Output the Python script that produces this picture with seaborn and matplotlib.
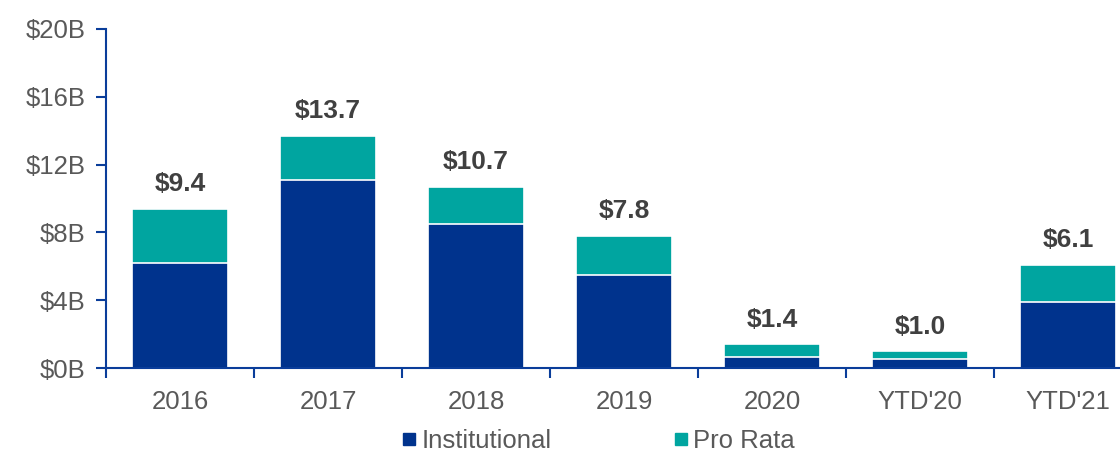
import matplotlib
matplotlib.use("Agg")
import matplotlib.pyplot as plt
from matplotlib.lines import Line2D
import seaborn as sns
import pandas as pd
import numpy as np

categories = ["2016", "2017", "2018", "2019", "2020", "YTD'20", "YTD'21"]
institutional = [6.2, 11.1, 8.5, 5.5, 0.65, 0.55, 3.9]
pro_rata = [3.2, 2.6, 2.2, 2.3, 0.75, 0.45, 2.2]
total_labels = ["$9.4", "$13.7", "$10.7", "$7.8", "$1.4", "$1.0", "$6.1"]
y_ticks = [0, 4, 8, 12, 16, 20]
y_tick_labels = ["$0B", "$4B", "$8B", "$12B", "$16B", "$20B"]

C_INST = "#00338D"
C_PRO = "#00A5A0"
C_AXIS = "#0A3D9A"
C_TEXT = "#595959"
C_LABEL = "#404040"

sns.set_style("white")
plt.rcParams["font.family"] = ["Liberation Sans", "DejaVu Sans"]

df = pd.DataFrame({"cat": categories, "inst": institutional, "pro": pro_rata})
df["total"] = df["inst"] + df["pro"]

fig = plt.figure(figsize=(11.2, 4.51), dpi=100)
ax = fig.add_axes([106 / 1120, (451 - 368) / 451, 1036 / 1120, 339 / 451])

sns.barplot(data=df, x="cat", y="total", color=C_PRO, width=0.65, ax=ax,
            edgecolor="white", linewidth=1.2, saturation=1)
sns.barplot(data=df, x="cat", y="inst", color=C_INST, width=0.65, ax=ax,
            edgecolor="white", linewidth=1.2, saturation=1)

for i, (t, lab) in enumerate(zip(df["total"], total_labels)):
    ax.annotate(lab, (i, t), xytext=(0, 9), textcoords="offset points",
                ha="center", va="bottom", fontsize=19, fontweight="bold",
                color=C_LABEL)

ax.set_xlim(-0.5, len(categories) - 0.5)
ax.set_ylim(0, 20)
ax.set_yticks(y_ticks)
ax.set_yticklabels(y_tick_labels)
ax.set_xlabel("")
ax.set_ylabel("")

ax.set_xticks(np.arange(-0.5, len(categories), 1.0), minor=True)
ax.tick_params(axis="x", which="major", bottom=True, length=0, pad=15.5,
               labelsize=18.5, labelcolor=C_TEXT)
ax.tick_params(axis="x", which="minor", bottom=True, length=7, width=1.5,
               color=C_AXIS, direction="out")
ax.tick_params(axis="y", which="major", left=True, length=7, width=1.5, color=C_AXIS,
               direction="out", labelsize=18.5, labelcolor=C_TEXT, pad=7.5)

for s in ["top", "right"]:
    ax.spines[s].set_visible(False)
for s in ["left", "bottom"]:
    ax.spines[s].set_color(C_AXIS)
    ax.spines[s].set_linewidth(1.5)

handles = [
    Line2D([0], [0], marker="s", linestyle="none", markersize=8.5,
           markerfacecolor=C_INST, markeredgecolor=C_INST, label="Institutional"),
    Line2D([0], [0], marker="s", linestyle="none", markersize=8.5,
           markerfacecolor=C_PRO, markeredgecolor=C_PRO, label="Pro Rata"),
]
leg = fig.legend(handles=handles, loc="center", bbox_to_anchor=(597 / 1120, 10 / 451),
                 ncol=2, frameon=False, fontsize=18.5, handletextpad=0.1,
                 columnspacing=4.6, handlelength=0.8, borderpad=0)
for t in leg.get_texts():
    t.set_color(C_TEXT)

fig.savefig("out.png", dpi=100)
